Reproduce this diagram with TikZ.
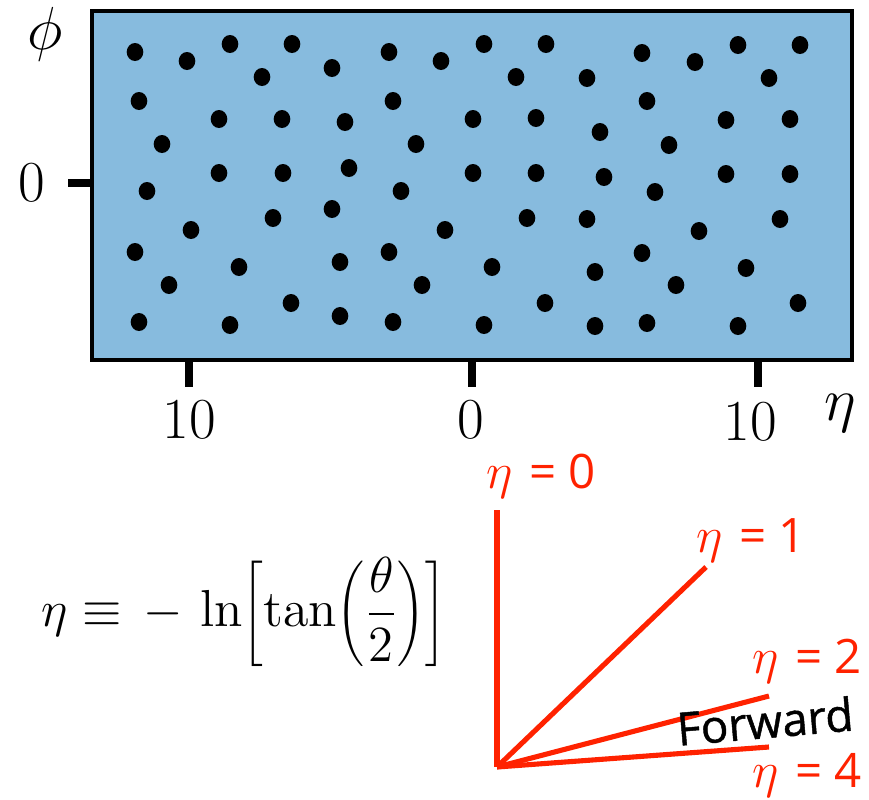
\documentclass[tikz,border=0pt]{standalone}
\usepackage{fontspec}
\newfontfamily\lblfont{Open Sans}
\newfontfamily\fwdfont[FakeBold=1]{Open Sans}
\definecolor{plotblue}{RGB}{135,187,222}
\definecolor{etared}{RGB}{255,34,0}

\begin{document}
\begin{tikzpicture}[x=0.01cm,y=-0.01cm,
  axlbl/.style={inner sep=0pt,font=\fontsize{16.5}{20}\selectfont},
  axtick/.style={line width=2.2pt},
  ray/.style={etared,line width=1.45pt},
  raylbl/.style={inner sep=0pt,text=etared,font=\lblfont\fontsize{13.5}{16}\selectfont}]
\useasboundingbox (0,0) rectangle (869,799);
% eta-phi plane with particles
\draw[fill=plotblue,line width=1.1pt] (92,11) rectangle (852,360);
\foreach \px/\py in {135/52,187/61,230/44,292/44,389/52,441/61,484/44,546/44,642/53,738/45,800/45,695/62,
  262/77,332/68,516/77,587/78,769/78,139/101,393/101,647/101,
  219/119,282/119,345/122,473/119,536/118,600/132,726/120,790/119,162/144,416/144,669/145,
  219/173,283/173,349/168,473/173,536/173,604/177,726/174,790/174,147/191,401/191,655/192,
  273/218,332/209,527/218,587/219,780/219,191/230,445/230,699/231,135/252,389/252,642/253,
  239/267,340/262,492/267,595/272,746/268,169/285,422/285,676/285,291/303,545/303,798/303,
  139/322,230/325,340/316,393/322,484/325,595/326,647/323,738/326}
  \fill (\px,\py) ellipse [x radius=0.083cm,y radius=0.09cm];
\draw[axtick] (68,183) -- (92,183);
\draw[axtick] (189,360) -- (189,387);
\draw[axtick] (472,360) -- (472,387);
\draw[axtick] (758,360) -- (758,387);
\node[axlbl] (phi) at (45,34) {$\phi$};
\node[axlbl] (yzero) at (32,183) {0};
\node[axlbl] (xneg) at (189,420) {10};
\node[axlbl] (xzero) at (471,420) {0};
\node[axlbl] (xpos) at (750,422) {10};
\node[axlbl] (eta) at (840,413) {$\eta$};
% definition
\node[inner sep=0pt,font=\fontsize{14.8}{18}\selectfont] (def) at (244,612)
  {$\displaystyle \eta \equiv\, -\,\ln\Biggl[\tan\Biggl(\frac{\theta}{2}\Biggr)\Biggr]$};
% rays
\coordinate (O) at (497,767);
\coordinate (r0) at (497,510);
\coordinate (r1) at (706,567);
\coordinate (r2) at (769,696);
\coordinate (r4) at (769,747);
\draw[ray] (O) -- (r0);
\draw[ray] (O) -- (r1);
\draw[ray] (O) -- (r2);
\draw[ray] (O) -- (r4);
\node[raylbl] (l0) at (541,476) {$\eta$\hspace{0.1em} = 0};
\node[raylbl] (l1) at (751,540) {$\eta$\hspace{0.1em} = 1};
\node[raylbl] (l2) at (807,661) {$\eta$\hspace{0.1em} = 2};
\node[raylbl] (l4) at (807,775) {$\eta$\hspace{0.1em} = 4};
\node[inner sep=0pt,rotate=5,font=\fwdfont\fontsize{13}{15}\selectfont] (fwd) at (765,721) {Forward};
\end{tikzpicture}
\end{document}
